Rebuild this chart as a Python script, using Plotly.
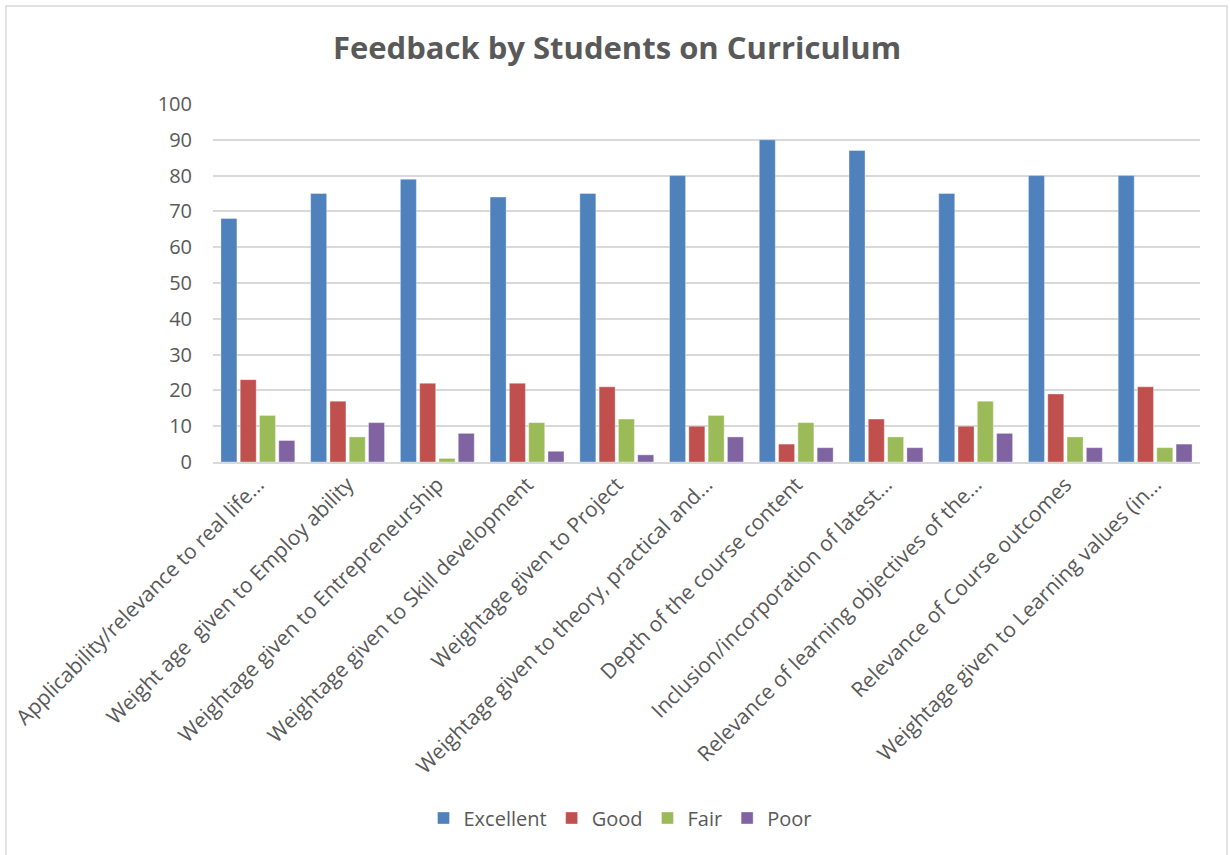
import plotly.graph_objects as go

categories = [
    "Applicability/relevance to real life…",
    "Weight age\u00a0 given to Employ ability",
    "Weightage given to Entrepreneurship",
    "Weightage given to Skill development",
    "Weightage given to Project",
    "Weightage given to theory, practical and…",
    "Depth of the course content",
    "Inclusion/incorporation of latest…",
    "Relevance of learning objectives of the…",
    "Relevance of Course outcomes",
    "Weightage given to Learning values (in…",
]
excellent = [68, 75, 79, 74, 75, 80, 90, 87, 75, 80, 80]
good = [23, 17, 22, 22, 21, 10, 5, 12, 10, 19, 21]
fair = [13, 7, 1, 11, 12, 13, 11, 7, 17, 7, 4]
poor = [6, 11, 8, 3, 2, 7, 4, 4, 8, 4, 5]
y_ticks = [0, 10, 20, 30, 40, 50, 60, 70, 80, 90, 100]

series = [
    ("Excellent", excellent, "#4F81BD"),
    ("Good", good, "#C0504D"),
    ("Fair", fair, "#9BBB59"),
    ("Poor", poor, "#8064A2"),
]

W, H = 1230, 855
L, R, T, B = 213, 1200, 104, 462

fig = go.Figure()
for name, vals, col in series:
    fig.add_trace(go.Bar(
        x=categories, y=vals, name=name,
        marker=dict(color=col, line=dict(color="rgba(255,255,255,0.6)", width=0.6)),
    ))

font_main = "Open Sans, Lato, sans-serif"
gray = "#595959"

fig.update_layout(
    width=W, height=H,
    margin=dict(l=L, r=W - R, t=T, b=H - B, autoexpand=False),
    paper_bgcolor="white", plot_bgcolor="white",
    barmode="group", bargap=0.14, bargroupgap=0.17,
    title=dict(
        text="<b>Feedback by Students on Curriculum</b>",
        x=617 / W, xref="container", xanchor="center",
        y=1 - 48 / H, yref="container", yanchor="middle",
        font=dict(family="Open Sans, sans-serif", size=31, color=gray),
    ),
    font=dict(family=font_main, color=gray, size=20),
    legend=dict(
        orientation="h", x=(620 - L) / (R - L), xanchor="center",
        y=(B - 818) / (B - T), yanchor="middle",
        font=dict(family=font_main, size=20, color=gray),
        itemwidth=30, tracegroupgap=0,
    ),
    showlegend=True,
)
fig.update_xaxes(
    tickangle=-45, tickfont=dict(family=font_main, size=21, color=gray),
    showline=True, linecolor="#D9D9D9", linewidth=2, ticks="",
    showgrid=False, automargin=False,
)
fig.update_yaxes(
    range=[0, 100], tickvals=y_ticks, ticktext=[str(v) for v in y_ticks],
    tickfont=dict(family=font_main, size=20, color=gray),
    showgrid=True, gridcolor="#D9D9D9", gridwidth=1.5,
    zeroline=False, showline=False, ticks="", ticklabelstandoff=20,
    automargin=False,
)
# outer chart border
fig.add_shape(
    type="rect", xref="paper", yref="paper",
    x0=(6 - L) / (R - L), x1=(1227 - L) / (R - L),
    y0=(B - 870) / (B - T), y1=(B - 6) / (B - T),
    line=dict(color="#D9D9D9", width=1.5), fillcolor="rgba(0,0,0,0)", layer="below",
)

fig.write_html(
    "out.html",
    config={"displayModeBar": False},
    post_script="document.body.style.margin='0';document.body.style.padding='0';document.body.style.overflow='hidden';",
)
